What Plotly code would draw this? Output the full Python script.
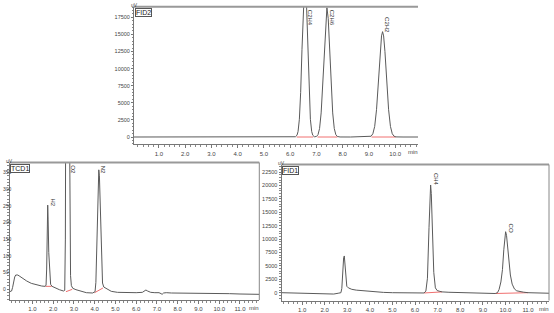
import plotly.graph_objects as go

# ---------------- data ----------------
fid2_t = [0.05, 1.0, 2.0, 3.0, 4.0, 5.0, 5.8, 6.2, 6.26, 6.3, 6.35, 6.4, 6.45, 6.5, 6.56, 6.62, 6.67, 6.72,
          6.77, 6.82, 6.86, 6.92, 7.0, 7.06, 7.12, 7.18, 7.24, 7.3, 7.35, 7.4, 7.45, 7.5, 7.56, 7.62, 7.68,
          7.74, 7.8, 7.9, 8.3, 8.8, 9.08, 9.15, 9.22, 9.29, 9.36, 9.43, 9.48, 9.52, 9.56, 9.61, 9.68, 9.75,
          9.82, 9.89, 9.96, 10.03, 10.3, 10.87]
fid2_v = [0, 0, 0, 0, 0, 0, 0, 36, 261, 800, 2590, 6530, 12830, 19630, 23500, 19630, 12830, 6530,
          2590, 800, 261, 36, 73, 343, 1240, 3520, 7770, 13360, 17330, 18900, 17330, 13360, 7770, 3520, 1240,
          343, 73, 5, 0, 0, 110, 470, 1550, 3990, 8010, 12520, 14780, 15400, 14780, 12520, 8010, 3990,
          1550, 470, 110, 15, 0, 0]
fid2_peaks = ["C2H4", "C2H6", "C2H2"]
fid2_peak_t = [6.56, 7.40, 9.52]
fid2_peak_v = [23500, 18900, 15400]
fid2_base_t = [[6.25, 6.88], [7.04, 7.8], [9.1, 10.02]]
fid2_base_v = [[0, 0], [0, 0], [0, 0]]

tcd_t = [-0.1, 0.0, 0.05, 0.1, 0.15, 0.2, 0.25, 0.3, 0.4, 0.55, 0.73, 0.95, 1.21, 1.45, 1.62, 1.66, 1.69,
         1.72, 1.74, 1.76, 1.79, 1.83, 1.88, 1.95, 2.1, 2.3, 2.5, 2.56, 2.59, 2.61, 2.64, 2.67, 2.70, 2.73,
         2.76, 2.79, 2.81, 2.84, 2.88, 2.95, 3.1, 3.3, 3.6, 3.9, 4.02, 4.06, 4.1, 4.14, 4.17, 4.2, 4.23,
         4.26, 4.3, 4.34, 4.38, 4.44, 4.5, 4.65, 4.8, 5.1, 5.5, 6.0, 6.3, 6.4, 6.47, 6.55, 6.7, 6.9, 7.1,
         7.2, 7.25, 7.32, 7.45, 7.7, 8.0, 8.5, 9.0, 9.5, 10.0, 10.5, 11.0, 11.5, 11.93]
tcd_v = [-8, -6, 5, 22, 36, 42, 43, 42, 38, 31, 24, 17, 12, 9, 8, 12, 60,
         190, 252, 210, 110, 40, 14, 8, 3, -2, -6, -4, 150, 500, 1300, 2400, 3000, 2400,
         1300, 500, 200, 40, 10, 2, -2, -6, -11, -12, -8, 20, 110, 260, 340, 358, 340,
         265, 140, 55, 18, 6, 4, -2, -7, -10, -11, -11, -10, -6, -3, -6, -10, -11, -11,
         -14, -16, -12, -11, -12, -12, -12, -13, -13, -14, -14, -15, -16, -16]
tcd_peaks = ["H2", "O2", "N2"]
tcd_peak_t = [1.74, 2.70, 4.20]
tcd_peak_v = [252, 3000, 358]
tcd_base_t = [[1.64, 1.93], [2.62, 2.92], [4.0, 4.4]]
tcd_base_v = [[8, 8], [-8, -1], [-11, 3]]

fid1_t = [0.09, 0.5, 1.0, 1.5, 2.0, 2.4, 2.6, 2.72, 2.76, 2.8, 2.84, 2.87, 2.9, 2.94, 2.98, 3.05, 3.2,
          3.4, 3.64, 3.9, 4.23, 4.6, 5.0, 5.5, 6.0, 6.3, 6.4, 6.48, 6.55, 6.62, 6.66, 6.69, 6.72, 6.76,
          6.83, 6.9, 6.98, 7.1, 7.2, 7.5, 8.0, 8.5, 9.0, 9.3, 9.55, 9.65, 9.72, 9.8, 9.87, 9.93, 9.97,
          10.01, 10.05, 10.1, 10.16, 10.22, 10.3, 10.4, 10.5, 10.65, 10.8, 11.0, 11.5, 11.93]
fid1_v = [0, -50, -100, -200, -300, -250, -100, 0, 800, 4000, 6500, 6850, 5000, 2200, 1200, 900, 630,
          480, 370, 250, 130, 60, 0, -30, -50, -60, -50, 300, 2700, 12200, 18500, 20080, 18500, 12800,
          3800, 900, 400, 250, 150, 80, 0, -80, -150, -150, -150, 0, 600, 2000, 4300, 8000, 10500,
          11370, 10700, 8800, 5700, 3300, 1600, 700, 350, 200, 100, 0, -100, -100]
fid1_peaks = ["CH4", "CO"]
fid1_peak_t = [6.69, 10.01]
fid1_peak_v = [20080, 11370]
fid1_base_t = [[6.40, 7.2], [9.55, 11.0]]
fid1_base_v = [[-50, 150], [-150, 0]]

fid2_yticks = [0, 2500, 5000, 7500, 10000, 12500, 15000, 17500]
tcd_yticks = [0, 50, 100, 150, 200, 250, 300, 350]
fid1_yticks = [0, 2500, 5000, 7500, 10000, 12500, 15000, 17500, 20000, 22500]
fid2_xticks = [1.0, 2.0, 3.0, 4.0, 5.0, 6.0, 7.0, 8.0, 9.0, 10.0]
bottom_xticks = [1.0, 2.0, 3.0, 4.0, 5.0, 6.0, 7.0, 8.0, 9.0, 10.0, 11.0]

# ---------------- figure ----------------
W, H = 554, 313
LINE = "#5a5a5a"
RED = "#f07070"

# panel pixel boxes: (left, right, top, bottom)
b1 = (134, 418, 6.7, 144.3)
b2 = (9.5, 259.3, 162.5, 300)
b3 = (281.5, 549, 164.5, 300.5)

x1r, y1r = [0.05, 10.87], [-1067, 19050]
x2r, y2r = [-0.1, 11.93], [-33, 380]
x3r, y3r = [0.09, 11.93], [-1454, 23900]

fig = go.Figure()

panels = [
    dict(xa="x", ya="y", t=fid2_t, v=fid2_v, bt=fid2_base_t, bv=fid2_base_v,
         pk=fid2_peaks, pt=fid2_peak_t, pv=fid2_peak_v, yr=y1r),
    dict(xa="x2", ya="y2", t=tcd_t, v=tcd_v, bt=tcd_base_t, bv=tcd_base_v,
         pk=tcd_peaks, pt=tcd_peak_t, pv=tcd_peak_v, yr=y2r),
    dict(xa="x3", ya="y3", t=fid1_t, v=fid1_v, bt=fid1_base_t, bv=fid1_base_v,
         pk=fid1_peaks, pt=fid1_peak_t, pv=fid1_peak_v, yr=y3r),
]

for p in panels:
    for bt, bv in zip(p["bt"], p["bv"]):
        fig.add_trace(go.Scatter(x=bt, y=bv, xaxis=p["xa"], yaxis=p["ya"], mode="lines",
                                 line=dict(color=RED, width=1), hoverinfo="skip", showlegend=False))
    fig.add_trace(go.Scatter(x=p["t"], y=p["v"], xaxis=p["xa"], yaxis=p["ya"], mode="lines",
                             line=dict(color=LINE, width=1), showlegend=False))
    top = p["yr"][1]
    for name, pt, pv in zip(p["pk"], p["pt"], p["pv"]):
        if pv >= top * 0.9:
            fig.add_annotation(x=pt, y=top, xref=p["xa"], yref=p["ya"], text=name, showarrow=False,
                               textangle=90, xanchor="left", yanchor="top", yshift=-1,
                               font=dict(size=6, color="#333", family="Arial"))
        else:
            fig.add_annotation(x=pt, y=pv, xref=p["xa"], yref=p["ya"], text=name, showarrow=False,
                               textangle=90, xanchor="left", yanchor="bottom", yshift=-3,
                               font=dict(size=6, color="#333", family="Arial"))

def px(x):
    return x / W

def py(y):
    return 1 - y / H

xtickfont = dict(size=6, color="#444", family="Arial")
ytickfont = dict(size=5.5, color="#444", family="Arial")

def xaxis_cfg(dom, rng, ticks, anchor):
    return dict(domain=dom, range=rng, anchor=anchor, tickvals=ticks, automargin=False,
                ticktext=["%.1f" % t for t in ticks], tickfont=xtickfont,
                showgrid=False, zeroline=False, showline=True, linecolor="#777", linewidth=1,
                ticks="outside", ticklen=3, tickcolor="#777", tickwidth=1,
                minor=dict(dtick=0.2, tick0=0, ticks="outside", ticklen=2, tickcolor="#888", showgrid=False))

def yaxis_cfg(dom, rng, ticks, minor, anchor, labels=True):
    return dict(domain=dom, range=rng, anchor=anchor, tickvals=ticks, automargin=False,
                ticktext=[str(t) for t in ticks], tickfont=ytickfont, showticklabels=labels,
                showgrid=False, zeroline=False, showline=True, linecolor="#777", linewidth=1,
                ticks="outside", ticklen=2, tickcolor="#777", tickwidth=1,
                minor=dict(dtick=minor, tick0=0, ticks="outside", ticklen=1.5, tickcolor="#888", showgrid=False))

fig.update_layout(
    width=W, height=H, margin=dict(l=0, r=0, t=0, b=0, autoexpand=False),
    paper_bgcolor="white", plot_bgcolor="white",
    xaxis=xaxis_cfg([px(b1[0]), px(b1[1])], x1r, fid2_xticks, "y"),
    yaxis=yaxis_cfg([py(b1[3]), py(b1[2])], y1r, fid2_yticks, 500, "x"),
    xaxis2=xaxis_cfg([px(b2[0]), px(b2[1])], x2r, bottom_xticks, "y2"),
    yaxis2=yaxis_cfg([py(b2[3]), py(b2[2])], y2r, tcd_yticks, 10, "x2", labels=False),
    xaxis3=xaxis_cfg([px(b3[0]), px(b3[1])], x3r, bottom_xticks, "y3"),
    yaxis3=yaxis_cfg([py(b3[3]), py(b3[2])], y3r, fid1_yticks, 500, "x3"),
)

# TCD1 tick labels squeezed against the left edge (as in the original)
for v in tcd_yticks:
    fig.add_annotation(x=0, y=v, xref="paper", yref="y2", text=str(v), showarrow=False,
                       xanchor="left", yanchor="middle", xshift=0.5,
                       font=dict(size=5, color="#444", family="Arial"))

# top borders and right borders
shapes = []
for (l, r, t, b), right in [(b1, False), (b2, True), (b3, True)]:
    shapes.append(dict(type="line", xref="paper", yref="paper", x0=px(l), x1=px(r), y0=py(t), y1=py(t),
                       line=dict(color="#999", width=2)))
    if right:
        shapes.append(dict(type="line", xref="paper", yref="paper", x0=px(r), x1=px(r), y0=py(t), y1=py(b),
                           line=dict(color="#888", width=1)))
fig.update_layout(shapes=shapes)

# panel name boxes, "uV" and "min" labels
for name, (l, r, t, b) in [("FID2", b1), ("TCD1", b2), ("FID1", b3)]:
    fig.add_annotation(x=px(l + 0.5), y=py(t + 1), xref="paper", yref="paper", text=name, showarrow=False,
                       xanchor="left", yanchor="top", bordercolor="#555", borderwidth=1, borderpad=0,
                       bgcolor="white", font=dict(size=7, color="#222", family="Arial"))
    fig.add_annotation(x=px(l), y=py(max(t - 7, 0.5)), xref="paper", yref="paper", text="uV", showarrow=False,
                       xanchor="center", yanchor="top", font=dict(size=5, color="#444", family="Arial"))
    fig.add_annotation(x=px(r - 5), y=py(b + 3), xref="paper", yref="paper", text="min", showarrow=False,
                       xanchor="center", yanchor="top", font=dict(size=6, color="#444", family="Arial"))

fig.write_html("out.html")
